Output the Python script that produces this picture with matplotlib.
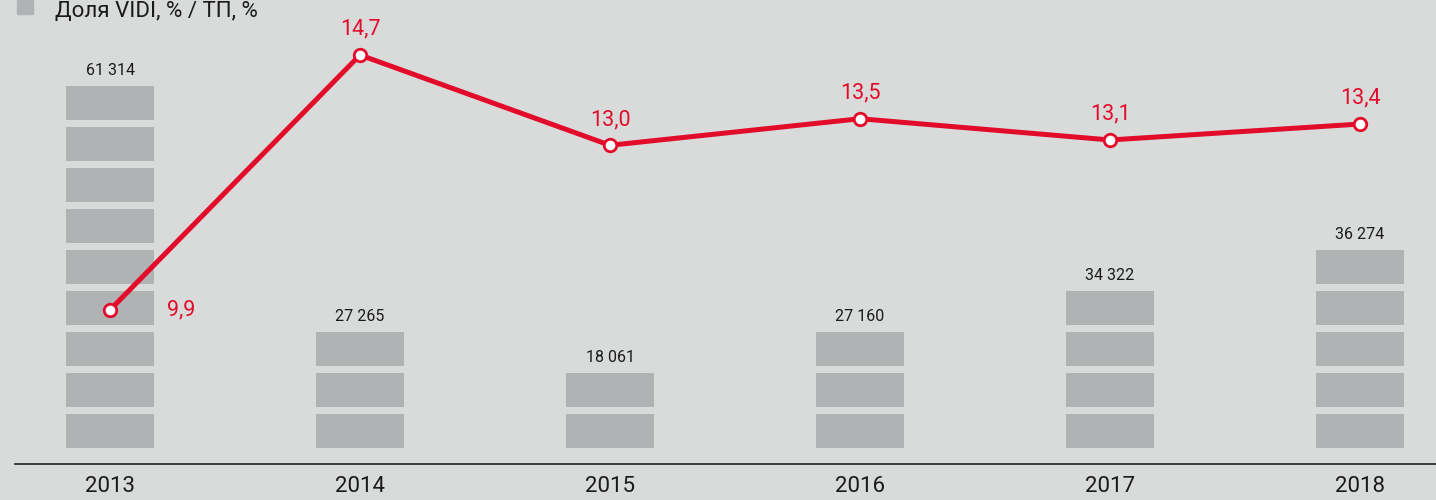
import matplotlib.pyplot as plt
from matplotlib.patches import Rectangle

years = ["2013", "2014", "2015", "2016", "2017", "2018"]
volume = [61314, 27265, 18061, 27160, 34322, 36274]
blocks = [9, 3, 2, 3, 4, 5]
share = [9.9, 14.7, 13.0, 13.5, 13.1, 13.4]
legend_label = "Доля VIDI, % / ТП, %"

bg = "#d9dbdb"
bar_color = "#b1b2b3"
red = "#e30b2a"
plt.rcParams["font.family"] = ["Roboto", "DejaVu Sans"]

fig = plt.figure(figsize=(14.36, 5), dpi=100)
fig.patch.set_facecolor(bg)

ax = fig.add_axes([15 / 1436, 36 / 500, 1421 / 1436, 464 / 500])
ax.set_facecolor(bg)
x = list(range(len(years)))
ax.set_xlim(-0.38, -0.38 + 1421 / 250)
ax.set_ylim(-0.39, 464 / 41 - 0.39)

# stacked blocks for each bar
for i, n in enumerate(blocks):
    for b in range(n):
        ax.bar(x[i], 34 / 41, bottom=b, width=0.352, color=bar_color, linewidth=0)
    ax.annotate(f"{volume[i]:,}".replace(",", " "), (x[i], n - 7 / 41),
                xytext=(0, 6), textcoords="offset points", ha="center",
                va="bottom", fontsize=11.5, color="#1a1a1a")

for s in ["top", "right", "left"]:
    ax.spines[s].set_visible(False)
ax.spines["bottom"].set_color("#222222")
ax.spines["bottom"].set_linewidth(1.2)
ax.set_yticks([])
ax.set_xticks(x)
ax.set_xticklabels(years, fontsize=16, color="#1a1a1a")
ax.tick_params(axis="x", length=0, pad=9)

ax2 = ax.twinx()
ax2.set_ylim(7.0, 15.735)
ax2.axis("off")
ax2.plot(x, share, color=red, linewidth=3.6, marker="o", markersize=9,
         markerfacecolor="white", markeredgecolor=red, markeredgewidth=2, zorder=5)
for i, v in enumerate(share):
    lbl = f"{v:.1f}".replace(".", ",")
    if i == 0:
        ax2.annotate(lbl, (x[i], v), xytext=(41, 0), textcoords="offset points",
                     ha="left", va="center", fontsize=15.5, color=red)
    else:
        ax2.annotate(lbl, (x[i], v), xytext=(0, 11), textcoords="offset points",
                     ha="center", va="bottom", fontsize=15.5, color=red)

# legend at top
fig.patches.append(Rectangle((17 / 1436, 1 - 14 / 500), 16 / 1436, 14 / 500,
                             transform=fig.transFigure, color=bar_color))
fig.text(55 / 1436, 1 - 17 / 500, legend_label, fontsize=16, color="#1a1a1a",
         ha="left", va="baseline")

fig.savefig("out.png", dpi=100, facecolor=bg)
